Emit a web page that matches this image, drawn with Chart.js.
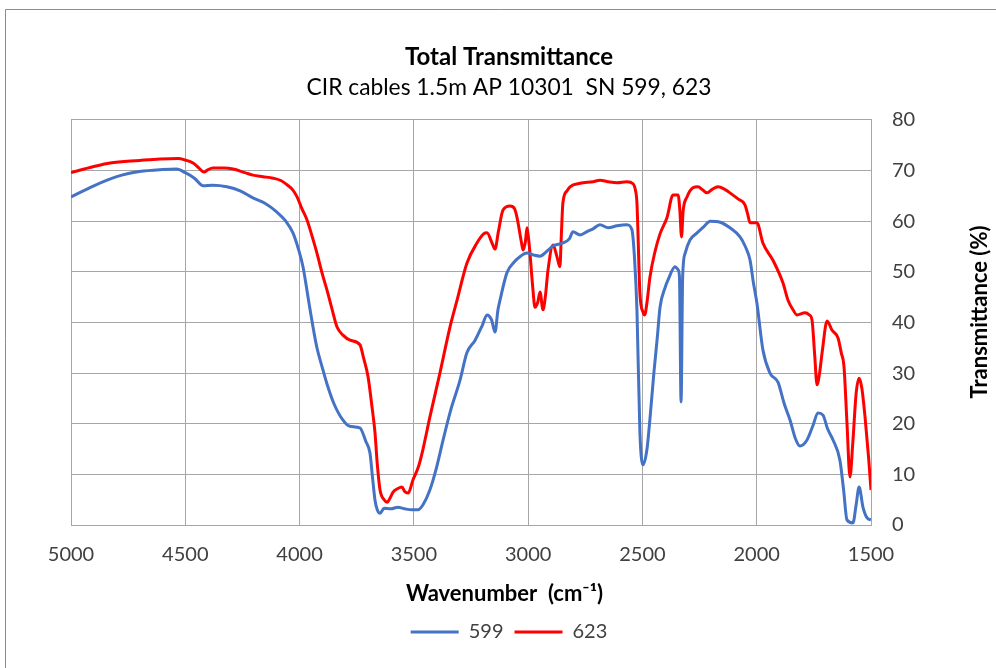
<!DOCTYPE html>
<html>
<head>
<meta charset="utf-8">
<script src="https://cdn.jsdelivr.net/npm/chart.js@4/dist/chart.umd.min.js"></script>
<style>
html,body{margin:0;padding:0;background:#fff;}
#wrap{width:996px;height:668px;position:relative;}
</style>
</head>
<body>
<div id="wrap"><canvas id="c" width="996" height="668"></canvas></div>
<script>
// ---- data ----
const wn599 = [5000,4900,4800,4700,4600,4538,4500,4460,4422,4380,4318,4260,4204,4150,4099,4060,4029,4005,3985,3970,3954,3925,3900,3881,3850,3810,3780,3736,3710,3692,3680,3670,3660,3648,3630,3600,3570,3540,3510,3482,3460,3430,3400,3372,3340,3298,3268,3232,3200,3180,3160,3145,3132,3123,3093,3060,3036,3005,2975,2948,2920,2891,2848,2820,2804,2773,2740,2716,2686,2650,2611,2568,2546,2535,2524,2511,2497,2480,2467,2450,2435,2423,2400,2388,2357,2344,2338,2331,2324,2313,2292,2261,2230,2204,2160,2117,2073,2050,2029,2015,1999,1973,1942,1907,1880,1854,1830,1811,1780,1755,1732,1710,1690,1666,1636,1620,1605,1579,1565,1552,1535,1517,1500];
const t599  = [64.8,67.0,68.8,69.8,70.2,70.3,69.6,68.5,67.0,67.1,66.8,66.0,64.6,63.5,61.8,60.0,57.7,54.5,51.0,47.0,42.5,35.2,31.0,28.0,24.0,20.7,19.5,19.2,16.5,14.2,9.0,4.9,3.0,2.3,3.3,3.2,3.5,3.2,3.0,3.0,4.0,6.9,11.5,16.8,22.5,28.6,34.0,36.5,39.5,41.5,40.5,38.1,42.5,44.4,49.8,52.0,53.0,53.7,53.3,53.1,54.0,55.1,55.7,56.5,57.9,57.3,58.0,58.5,59.3,58.7,59.1,59.3,58.3,53.0,42.5,18.2,11.9,15.0,21.0,30.0,37.0,43.0,47.0,48.4,51.0,50.4,49.0,24.3,49.0,53.7,56.3,57.7,59.0,60.0,59.8,58.7,56.9,55.0,52.3,48.0,43.8,34.6,30.0,28.2,24.0,20.7,17.0,15.6,16.8,19.5,22.1,21.7,19.0,16.8,12.8,7.0,1.0,0.4,4.0,7.5,3.5,1.4,1.0];

const wn623 = [5000,4900,4829,4700,4611,4530,4501,4466,4440,4418,4400,4379,4330,4291,4240,4204,4160,4116,4080,4055,4030,4011,3990,3967,3945,3924,3900,3880,3860,3836,3810,3779,3736,3720,3700,3685,3670,3660,3648,3630,3617,3600,3591,3570,3552,3540,3525,3504,3480,3464,3430,3386,3342,3311,3268,3224,3195,3180,3158,3145,3130,3110,3079,3060,3049,3030,3022,3012,3005,2998,2992,2980,2970,2958,2948,2935,2925,2913,2891,2874,2861,2855,2848,2830,2817,2773,2716,2686,2650,2611,2568,2541,2530,2524,2511,2497,2490,2480,2467,2445,2423,2392,2366,2344,2336,2329,2322,2305,2279,2257,2237,2217,2195,2169,2140,2117,2082,2051,2040,2029,1999,1973,1929,1885,1863,1841,1824,1789,1770,1758,1747,1736,1725,1714,1692,1671,1644,1630,1618,1605,1592,1580,1565,1552,1540,1526,1510,1500];
const t623  = [69.6,70.8,71.5,72.0,72.3,72.4,72.1,71.5,70.5,69.7,70.2,70.5,70.5,70.3,69.6,69.1,68.8,68.5,68.0,67.2,66.2,64.8,62.5,60.2,57.0,53.7,49.5,46.4,43.0,39.1,37.5,36.5,35.6,33.0,29.2,24.0,18.2,12.0,6.9,5.0,4.5,5.7,6.5,7.2,7.5,6.6,6.3,8.9,11.5,14.2,21.3,30.0,39.1,44.4,51.7,55.7,57.5,57.7,55.7,54.5,58.0,62.2,63.0,62.5,60.8,56.0,54.3,56.0,58.7,56.5,53.7,47.0,43.0,44.0,46.0,42.5,45.0,50.4,55.3,53.0,51.0,57.0,63.6,66.0,66.8,67.5,67.8,68.1,67.8,67.6,67.8,67.4,66.0,63.6,45.8,42.0,41.5,44.0,49.0,54.0,57.5,60.8,65.2,65.2,62.0,56.9,62.0,64.8,66.6,66.8,66.2,65.6,66.3,66.8,66.3,65.6,64.4,63.2,61.5,59.7,59.7,55.7,52.3,47.8,44.4,42.5,41.5,41.9,41.5,40.5,34.0,27.7,30.0,34.0,40.3,38.5,36.9,34.0,31.2,20.0,9.5,16.0,26.0,29.0,27.0,21.3,13.0,6.9];

const seriesNames = ['599','623'];
const xTicks = [5000,4500,4000,3500,3000,2500,2000,1500];
const yTicks = [0,10,20,30,40,50,60,70,80];

const toPts = (xs, ys) => xs.map((x, i) => ({x: x, y: ys[i]}));

const FONT = 'Lato, "Open Sans", sans-serif';
const MAJOR = '#a6a6a6';
const MINOR = '#d9d9d9';

const frame = {
  id: 'frame',
  beforeDraw(chart) {
    const ctx = chart.ctx;
    ctx.save();
    ctx.fillStyle = '#fff';
    ctx.fillRect(0, 0, chart.width, chart.height);
    ctx.strokeStyle = '#8c8c8c';
    ctx.lineWidth = 1;
    ctx.beginPath();
    ctx.moveTo(5.5, chart.height);
    ctx.lineTo(5.5, 9.5);
    ctx.lineTo(chart.width, 9.5);
    ctx.stroke();
    ctx.restore();
  },
  afterDraw(chart) {
    const ctx = chart.ctx;
    ctx.save();
    ctx.font = 'bold 22px ' + FONT;
    ctx.fillStyle = '#000';
    ctx.textAlign = 'center';
    ctx.textBaseline = 'middle';
    ctx.fillText('Wavenumber  (cm\u207B\u00B9)', 504.5, 594);
    ctx.translate(980, 312);
    ctx.rotate(-Math.PI / 2);
    ctx.fillText('Transmittance (%)', 0, 0);
    ctx.restore();
  }
};

new Chart(document.getElementById('c'), {
  type: 'line',
  data: {
    datasets: [
      {label: seriesNames[0], data: toPts(wn599, t599), borderColor: '#4472C4', backgroundColor: '#4472C4', borderWidth: 3, pointRadius: 0, cubicInterpolationMode: 'monotone', fill: false},
      {label: seriesNames[1], data: toPts(wn623, t623), borderColor: '#FF0000', backgroundColor: '#FF0000', borderWidth: 3, pointRadius: 0, cubicInterpolationMode: 'monotone', fill: false}
    ]
  },
  options: {
    responsive: false,
    animation: false,
    devicePixelRatio: 1,
    layout: {padding: {top: 0, left: 22, right: 0, bottom: 16}},
    plugins: {
      title: {display: true, text: 'Total Transmittance', color: '#000', font: {family: FONT, size: 24, weight: 'bold', lineHeight: 1.2}, padding: {top: 42.5, bottom: 3}},
      subtitle: {display: true, text: 'CIR cables 1.5m AP 10301  SN 599, 623', color: '#000', font: {family: FONT, size: 22.8, lineHeight: 1.2}, padding: {top: 0, bottom: 18.3}},
      legend: {position: 'bottom', labels: {usePointStyle: true, pointStyle: 'line', pointStyleWidth: 48, boxHeight: 3, color: '#404040', font: {family: FONT, size: 20}, padding: 11}},
      tooltip: {enabled: false}
    },
    scales: {
      x: {
        type: 'linear', reverse: true, min: 1500, max: 5000,
        afterBuildTicks(s) { s.ticks = xTicks.map(v => ({value: v})); },
        ticks: {color: '#404040', font: {family: FONT, size: 20}, padding: 17.5, maxRotation: 0, autoSkip: false, callback: v => String(v)},
        grid: {color: MAJOR, lineWidth: 1, drawTicks: false},
        border: {display: true, color: MAJOR},
        afterFit(s) { s.height = 86; }
      },
      y: {
        position: 'right', min: 0, max: 80,
        afterBuildTicks(s) {
          const t = [];
          yTicks.forEach((v, i) => { t.push({value: v}); if (i < yTicks.length - 1) t.push({value: v + 5}); });
          s.ticks = t;
        },
        ticks: {color: '#404040', font: {family: FONT, size: 20}, padding: 21, callback: v => (v % 10 === 0 ? String(v) : '')},
        grid: {color: c => (c.tick && c.tick.value % 10 === 0 ? MAJOR : MINOR), lineWidth: 1, drawTicks: false},
        border: {display: true, color: MAJOR},
        afterFit(s) { s.width = 125; }
      },
      yLeft: {
        type: 'linear', axis: 'y', position: 'left', display: true,
        grid: {display: false, drawTicks: false}, ticks: {display: false}, border: {display: false},
        afterFit(s) { s.width = 49; }
      }
    }
  },
  plugins: [frame]
});
</script>
</body>
</html>
